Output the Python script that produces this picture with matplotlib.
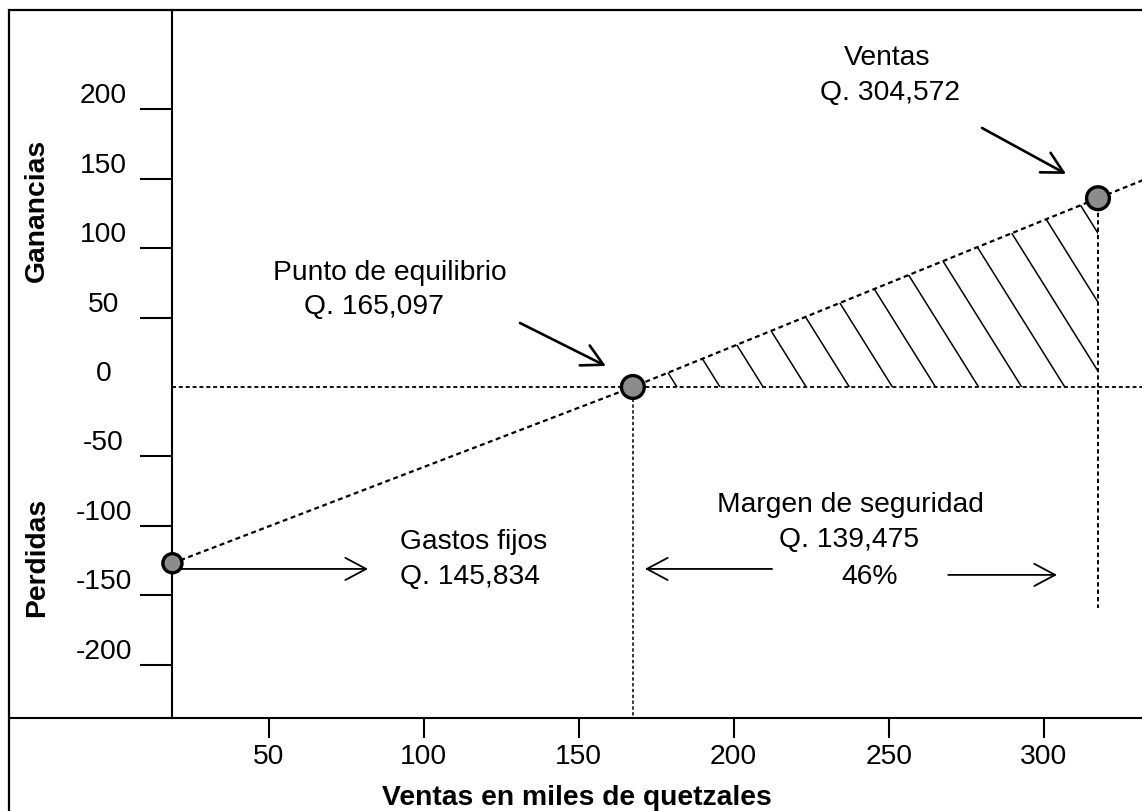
import matplotlib
matplotlib.use("Agg")
import matplotlib.pyplot as plt
from matplotlib.patches import Rectangle, Polygon
from matplotlib.transforms import ScaledTranslation
import numpy as np

plt.rcParams['font.family'] = ['Liberation Sans', 'DejaVu Sans']

# --- data (miles de quetzales) ---
x_ticks = [50, 100, 150, 200, 250, 300]
y_ticks = [-200, -150, -100, -50, 0, 50, 100, 150, 200]

# sales / result line: fixed cost point, break-even, sales point, line end
line_x = [19, 167.5, 317.5, 332]
line_y = [-127, 0, 136, 149]
point_sizes = [190, 270, 270]
sales_drop_bottom = -159

labels = {
    'punto': ("Punto de equilibrio", "Q. 165,097"),
    'ventas': ("Ventas", "Q. 304,572"),
    'gastos': ("Gastos fijos", "Q. 145,834"),
    'margen': ("Margen de seguridad", "Q. 139,475", "46%"),
}

W, H = 1142, 811
fig = plt.figure(figsize=(W / 100, H / 100), dpi=100)
ax = fig.add_axes([9 / W, 1 - 718 / H, 1 - 9 / W, (718 - 10) / H])
ax.set_xlim(-33.7, 331.7)
ax.set_ylim(-238.5, 271.6)

# outer frame
fig.add_artist(Rectangle((9 / W, -0.05), 1.2, 1.05 - 10 / H, fill=False,
                         lw=1.6, ec='black', transform=fig.transFigure))

# spines / axes
ax.spines[['top', 'right']].set_visible(False)
ax.spines['left'].set_position(('data', line_x[0]))
ax.spines['left'].set_linewidth(1.5)
ax.spines['bottom'].set_linewidth(1.5)

fs = 20.3

ax.set_xticks(x_ticks)
ax.set_xticklabels([str(v) for v in x_ticks])
ax.tick_params(axis='x', direction='out', length=14.4, width=1.5, pad=4, labelsize=fs)

ax.set_yticks(y_ticks)
ax.set_yticklabels([str(v) for v in y_ticks], ha='center')
ax.tick_params(axis='y', direction='out', length=23, width=1.5, pad=26.6, labelsize=fs)
offset = ScaledTranslation(0, 16 / 100, fig.dpi_scale_trans)
for lab in ax.get_yticklabels():
    lab.set_transform(lab.get_transform() + offset)
ax.yaxis.get_major_ticks()[y_ticks.index(0)].tick1line.set_visible(False)

dash = (0, (2.2, 1.6))

# zero line and guide lines
ax.plot([line_x[0], ax.get_xlim()[1]], [0, 0], color='black', lw=1.3, ls=dash)
ax.plot([line_x[1], line_x[1]], [0, ax.get_ylim()[0]], color='black', lw=1.1, ls=dash)
ax.plot([line_x[2], line_x[2]], [line_y[2], sales_drop_bottom], color='black', lw=1.4, ls=dash)

# sales line
ax.plot(line_x, line_y, color='black', lw=1.6, ls=dash)

# hatched profit area
poly = Polygon([(line_x[1], 0), (line_x[2], line_y[2]), (line_x[2], 0)],
               facecolor='none', edgecolor='none')
ax.add_patch(poly)
k = 1.6 * 3.1005 / 1.388
for c in np.arange(181.7, 400, 13.9):
    ln, = ax.plot([c - 80, c], [k * 80, 0], color='black', lw=1.1)
    ln.set_clip_path(poly)

# points
ax.scatter(line_x[:3], line_y[:3], s=point_sizes, color='#8c8c8c',
           edgecolors='black', linewidths=2.4, zorder=5, clip_on=False)

# annotations
ax.text(89.2, 82.1, labels['punto'][0], fontsize=fs, ha='center', va='center')
ax.text(84.0, 57.6, labels['punto'][1], fontsize=fs, ha='center', va='center')
ax.text(249.5, 237.0, labels['ventas'][0], fontsize=fs, ha='center', va='center')
ax.text(250.4, 211.8, labels['ventas'][1], fontsize=fs, ha='center', va='center')
ax.text(92.4, -111.7, labels['gastos'][0], fontsize=fs, ha='left', va='center')
ax.text(92.4, -136.9, labels['gastos'][1], fontsize=fs, ha='left', va='center')
ax.text(237.6, -85.0, labels['margen'][0], fontsize=fs, ha='center', va='center')
ax.text(237.2, -110.2, labels['margen'][1], fontsize=fs, ha='center', va='center')
ax.text(243.7, -136.9, labels['margen'][2], fontsize=fs, ha='center', va='center')

def arrow(tail, head, lw=1.3):
    ax.annotate('', xy=head, xytext=tail,
                arrowprops=dict(arrowstyle='->,head_length=0.75,head_width=0.4',
                                lw=lw, color='black', shrinkA=0, shrinkB=0,
                                mutation_scale=20))

arrow((131.1, 46.1), (158.8, 15.1), lw=1.9)
arrow((280.1, 186.6), (307.2, 153.5), lw=1.9)
arrow((line_x[0], -131.1), (82.1, -131.1))
arrow((212.4, -131.1), (171.4, -131.1))
arrow((269.2, -135.4), (304.3, -135.4))

# axis titles
fig.text(577 / W, 1 - 798 / H, "Ventas en miles de quetzales", fontsize=fs,
         fontweight='bold', ha='center', va='center')
fig.text(37 / W, 1 - 210 / H, "Ganancias", fontsize=fs, fontweight='bold',
         rotation=90, ha='center', va='center')
fig.text(37 / W, 1 - 557 / H, "Perdidas", fontsize=fs, fontweight='bold',
         rotation=90, ha='center', va='center')

fig.savefig("out.png", dpi=100)
